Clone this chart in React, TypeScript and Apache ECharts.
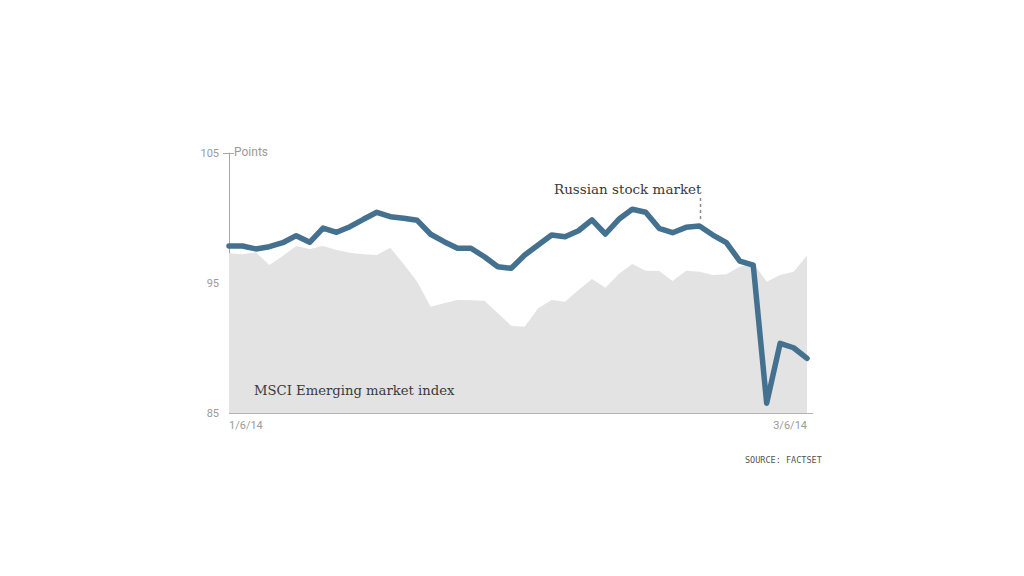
import React, { useEffect, useRef } from "react";
import * as echarts from "echarts";

const dates: string[] = [
  "1/6/14", "1/7/14", "1/8/14", "1/9/14", "1/10/14", "1/13/14", "1/14/14", "1/15/14", "1/16/14", "1/17/14",
  "1/20/14", "1/21/14", "1/22/14", "1/23/14", "1/24/14", "1/27/14", "1/28/14", "1/29/14", "1/30/14", "1/31/14",
  "2/3/14", "2/4/14", "2/5/14", "2/6/14", "2/7/14", "2/10/14", "2/11/14", "2/12/14", "2/13/14", "2/14/14",
  "2/17/14", "2/18/14", "2/19/14", "2/20/14", "2/21/14", "2/24/14", "2/25/14", "2/26/14", "2/27/14", "2/28/14",
  "3/3/14", "3/4/14", "3/5/14", "3/6/14",
];

const russia: number[] = [
  97.85, 97.85, 97.62, 97.79, 98.1, 98.64, 98.13, 99.23, 98.9, 99.33,
  99.9, 100.44, 100.1, 99.98, 99.82, 98.75, 98.18, 97.67, 97.67, 97.02,
  96.25, 96.13, 97.15, 97.92, 98.69, 98.56, 99.02, 99.85, 98.77, 99.9,
  100.67, 100.44, 99.21, 98.87, 99.28, 99.38, 98.69, 98.1, 96.69, 96.38,
  85.75, 90.36, 90.02, 89.2,
];

const msci: number[] = [
  97.28, 97.21, 97.36, 96.38, 97.08, 97.85, 97.62, 97.85, 97.54, 97.33,
  97.21, 97.15, 97.72, 96.44, 95.1, 93.18, 93.44, 93.69, 93.67, 93.64,
  92.67, 91.72, 91.64, 93.05, 93.69, 93.56, 94.46, 95.31, 94.64, 95.69,
  96.46, 95.95, 95.92, 95.15, 95.95, 95.87, 95.62, 95.67, 96.25, 96.51,
  95.1, 95.62, 95.87, 97.1,
];

const yTicks = { min: 85, max: 105, interval: 10 };

const labels = {
  unit: "Points",
  russia: "Russian stock market",
  msci: "MSCI Emerging market index",
  source: "SOURCE: FACTSET",
};

const GRID = { left: 229, right: 807, top: 153, bottom: 413 };
const NARROW = "'Liberation Sans Narrow', 'Roboto', sans-serif";
const SERIF = "'DejaVu Serif', 'Liberation Serif', serif";

export default function App() {
  const ref = useRef<HTMLDivElement>(null);

  useEffect(() => {
    if (!ref.current) return;
    const chart = echarts.init(ref.current, undefined, { renderer: "svg" });
    chart.setOption({
      animation: false,
      backgroundColor: "#ffffff",
      grid: {
        left: GRID.left,
        top: GRID.top,
        width: GRID.right - GRID.left,
        height: GRID.bottom - GRID.top,
        containLabel: false,
      },
      xAxis: {
        type: "category",
        data: dates,
        boundaryGap: false,
        axisLine: { show: false },
        axisTick: { show: false },
        splitLine: { show: false },
        axisLabel: {
          color: "#9a9a9a",
          fontFamily: NARROW,
          fontSize: 11,
          margin: 7,
          interval: (i: number) => i === 0 || i === dates.length - 1,
          alignMinLabel: "left",
          alignMaxLabel: "right",
          showMinLabel: true,
          showMaxLabel: true,
        },
      },
      yAxis: {
        type: "value",
        min: yTicks.min,
        max: yTicks.max,
        interval: yTicks.interval,
        axisLine: { show: true, lineStyle: { color: "#a8a8a8", width: 1 } },
        axisTick: { show: false },
        splitLine: { show: false },
        axisLabel: {
          color: "#9a9a9a",
          fontFamily: NARROW,
          fontSize: 11,
          margin: 10,
        },
      },
      series: [
        {
          name: labels.msci,
          type: "line",
          data: msci,
          symbol: "none",
          lineStyle: { width: 0, color: "#e3e3e3" },
          itemStyle: { color: "#e3e3e3" },
          areaStyle: { color: "#e3e3e3", opacity: 1, origin: "start" },
          z: 1,
        },
        {
          name: labels.russia,
          type: "line",
          data: russia,
          symbol: "none",
          lineStyle: { width: 5.5, color: "#44718f", cap: "round", join: "round" },
          itemStyle: { color: "#44718f" },
          z: 3,
        },
      ],
      graphic: [
        {
          type: "line",
          shape: { x1: GRID.left, y1: GRID.bottom + 0.5, x2: 813, y2: GRID.bottom + 0.5 },
          style: { stroke: "#b3b3b3", lineWidth: 1 },
          z: 10,
        },
        {
          type: "line",
          shape: { x1: 223, y1: GRID.top + 0.5, x2: 234, y2: GRID.top + 0.5 },
          style: { stroke: "#a8a8a8", lineWidth: 1 },
          z: 10,
        },
        {
          type: "text",
          x: 234,
          y: GRID.top - 1,
          style: {
            text: labels.unit,
            fill: "#9a9a9a",
            font: `12px ${NARROW}`,
            verticalAlign: "middle",
            align: "left",
          },
          z: 10,
        },
        {
          type: "text",
          x: 554,
          y: 189,
          style: {
            text: labels.russia,
            fill: "#3a3a3a",
            font: `13.5px ${SERIF}`,
            verticalAlign: "middle",
            align: "left",
          },
          z: 10,
        },
        {
          type: "line",
          shape: { x1: 700.5, y1: 198, x2: 700.5, y2: 221 },
          style: { stroke: "#8a8a8a", lineWidth: 1.5, lineDash: [3, 3] },
          z: 10,
        },
        {
          type: "text",
          x: 254,
          y: 390,
          style: {
            text: labels.msci,
            fill: "#3a3a3a",
            font: `13.2px ${SERIF}`,
            verticalAlign: "middle",
            align: "left",
          },
          z: 10,
        },
        {
          type: "text",
          x: 745,
          y: 460,
          style: {
            text: labels.source,
            fill: "#555555",
            font: `8.5px 'DejaVu Sans Mono', monospace`,
            verticalAlign: "middle",
            align: "left",
          },
          z: 10,
        },
      ],
    });
    return () => chart.dispose();
  }, []);

  return (
    <div
      ref={ref}
      style={{ position: "fixed", left: 0, top: 0, width: 1024, height: 576, background: "#fff" }}
    />
  );
}
